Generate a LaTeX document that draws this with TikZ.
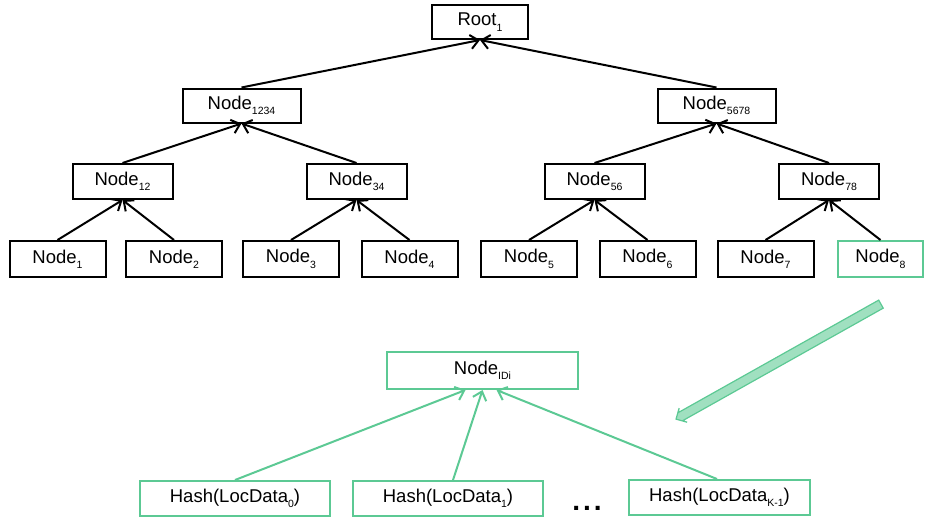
\documentclass[tikz,border=0pt]{standalone}
\usepackage{fontspec}
\setmainfont{Liberation Sans}
\usetikzlibrary{arrows.meta,shapes.arrows}
\definecolor{grn}{RGB}{92,201,148}
\definecolor{lgrn}{RGB}{160,224,192}
\newcommand{\lsub}[1]{\raisebox{-0.55ex}{\fontsize{10.5}{10.5}\selectfont #1}}
\begin{document}
\begin{tikzpicture}[x=1pt,y=-1pt,
  box/.style={draw=black, line width=2pt, inner sep=0pt, font=\fontsize{18.5}{18.5}\selectfont, minimum height=34pt},
  gbox/.style={box, draw=grn},
  conn/.style={line width=2pt, -{Straight Barb[length=8pt,width=14pt]}},
  gconn/.style={conn, draw=grn}]
\useasboundingbox (0,0) rectangle (925,519);
% top tree
\node[box, minimum width=96pt] (root) at (480,22) {Root\lsub{1}};
\node[box, minimum width=118pt] (n1234) at (241.5,105.5) {Node\lsub{1234}};
\node[box, minimum width=118pt] (n5678) at (716.5,105.5) {Node\lsub{5678}};
\node[box, minimum width=100pt, minimum height=35pt] (n12) at (122.5,181.5) {Node\lsub{12}};
\node[box, minimum width=100pt, minimum height=35pt] (n34) at (356.5,181.5) {Node\lsub{34}};
\node[box, minimum width=100pt, minimum height=35pt] (n56) at (594.5,181.5) {Node\lsub{56}};
\node[box, minimum width=100pt, minimum height=35pt] (n78) at (829,181.5) {Node\lsub{78}};
\node[box, minimum width=96pt, minimum height=36pt] (n1) at (57.5,259) {Node\lsub{1}};
\node[box, minimum width=96pt, minimum height=36pt] (n2) at (174,259) {Node\lsub{2}};
\node[box, minimum width=96pt, minimum height=36pt] (n3) at (291,259) {Node\lsub{3}};
\node[box, minimum width=96pt, minimum height=36pt] (n4) at (409.5,259) {Node\lsub{4}};
\node[box, minimum width=96pt, minimum height=36pt] (n5) at (529,259) {Node\lsub{5}};
\node[box, minimum width=96pt, minimum height=36pt] (n6) at (647.5,259) {Node\lsub{6}};
\node[box, minimum width=96pt, minimum height=36pt] (n7) at (765.5,259) {Node\lsub{7}};
\node[gbox, minimum width=85pt, minimum height=36pt] (n8) at (880.5,259) {Node\lsub{8}};
\draw[conn] (n1234.north) -- (root.south);
\draw[conn] (n5678.north) -- (root.south);
\draw[conn] (n12.north) -- (n1234.south);
\draw[conn] (n34.north) -- (n1234.south);
\draw[conn] (n56.north) -- (n5678.south);
\draw[conn] (n78.north) -- (n5678.south);
\draw[conn] (n1.north) -- (n12.south);
\draw[conn] (n2.north) -- (n12.south);
\draw[conn] (n3.north) -- (n34.south);
\draw[conn] (n4.north) -- (n34.south);
\draw[conn] (n5.north) -- (n56.south);
\draw[conn] (n6.north) -- (n56.south);
\draw[conn] (n7.north) -- (n78.south);
\draw[conn] (n8.north) -- (n78.south);
% big arrow
\node[single arrow, draw=grn, fill=lgrn, line width=1.2pt, inner xsep=0pt, inner ysep=4pt,
  minimum height=235pt, single arrow head extend=3.5pt, single arrow head indent=3pt,
  rotate=209.3] (big) at (780.5,360.5) {};
% bottom tree
\node[gbox, minimum width=191pt, minimum height=37pt] (idi) at (482.5,370.5) {Node\lsub{IDi}};
\node[gbox, minimum width=190pt, minimum height=35pt] (h0) at (235,498.5) {Hash(LocData\lsub{0})};
\node[gbox, minimum width=190pt, minimum height=35pt] (h1) at (448,498.5) {Hash(LocData\lsub{1})};
\node[gbox, minimum width=181pt, minimum height=35pt] (hk) at (719.5,497.5) {Hash(LocData\lsub{K-1})};
\draw[gconn] (h0.north) -- ([xshift=-17pt]idi.south);
\draw[gconn] ([xshift=5pt]h1.north) -- (idi.south);
\draw[gconn] ([xshift=-2.5pt]hk.north) -- ([xshift=14pt]idi.south);
\node[inner sep=0pt] (dots) at (587,508) {\fontsize{28}{28}\selectfont\bfseries .\hspace{3pt}.\hspace{3pt}.};
\end{tikzpicture}
\end{document}
